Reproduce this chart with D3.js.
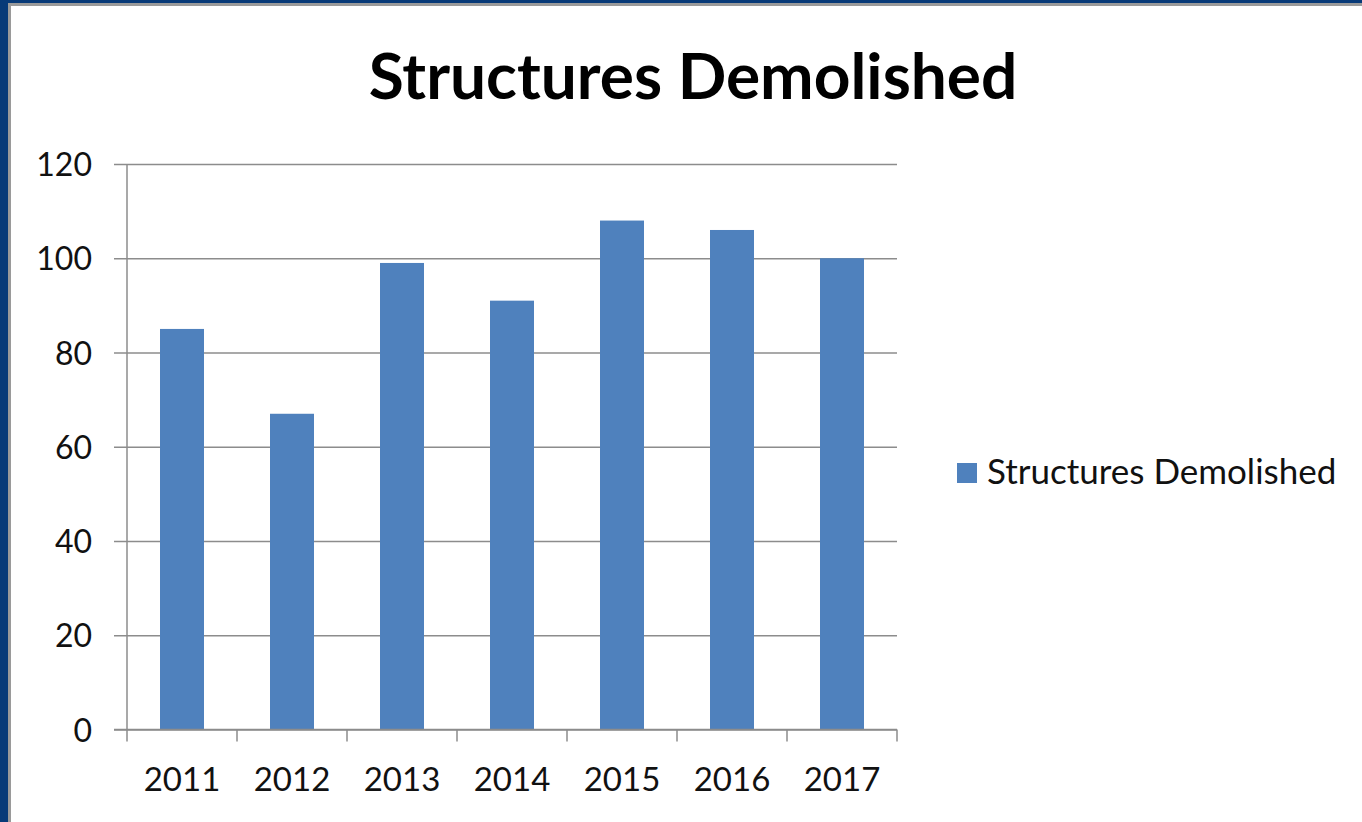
<!DOCTYPE html>
<html>
<head>
<meta charset="utf-8">
<script src="https://cdn.jsdelivr.net/npm/d3@7"></script>
<style>
  body { margin: 0; background: #fff; overflow: hidden; }
  svg { display: block; }
</style>
</head>
<body>
<div id="chart"></div>
<script>
var years = ["2011", "2012", "2013", "2014", "2015", "2016", "2017"];
var demolished = [85, 67, 99, 91, 108, 106, 100];
var yTicks = [0, 20, 40, 60, 80, 100, 120];
var seriesName = "Structures Demolished";
var chartTitle = "Structures Demolished";

var width = 1362;
var height = 822;
var plot = { left: 127, right: 897, top: 164, bottom: 729.5 };
var barColor = "#4F81BD";
var lineColor = "#8c8c8c";
var font = "Lato, 'Open Sans', sans-serif";

var svg = d3.select("#chart").append("svg")
  .attr("width", width)
  .attr("height", height);

// slide frame: dark blue edge on top and left, grey rule inside
svg.append("rect").attr("x", 0).attr("y", 0).attr("width", width).attr("height", height).attr("fill", "#073a78");
svg.append("rect").attr("x", 8).attr("y", 3).attr("width", width - 8).attr("height", height - 3).attr("fill", "#9a9a9a");
svg.append("rect").attr("x", 11).attr("y", 6).attr("width", width - 11).attr("height", height - 6).attr("fill", "#fff");

var y = d3.scaleLinear()
  .domain([0, 120])
  .range([plot.bottom, plot.top]);

var xBand = d3.scaleBand()
  .domain(years)
  .range([plot.left, plot.right]);

var xBar = d3.scaleBand()
  .domain(years)
  .range([plot.left, plot.right])
  .paddingInner(0.6)
  .paddingOuter(0.3);

// gridlines + y tick labels
svg.append("g")
  .attr("transform", "translate(" + plot.left + ",0)")
  .call(d3.axisLeft(y).tickValues(yTicks).tickSize(0))
  .call(function(g) {
    g.select(".domain").remove();
    g.selectAll(".tick line")
      .attr("x1", -13)
      .attr("x2", plot.right - plot.left)
      .attr("stroke", lineColor)
      .attr("stroke-width", 1.5);
    g.selectAll(".tick text")
      .attr("font-family", font)
      .attr("font-size", 32)
      .attr("fill", "#111")
      .attr("x", -35)
      .attr("dy", "0.36em");
  });

// bars
svg.append("g").selectAll("rect")
  .data(demolished)
  .enter().append("rect")
  .attr("x", function(d, i) { return xBar(years[i]); })
  .attr("y", function(d) { return y(d); })
  .attr("width", xBar.bandwidth())
  .attr("height", function(d) { return y(0) - y(d); })
  .attr("fill", barColor);

// y axis line
svg.append("line")
  .attr("x1", plot.left).attr("x2", plot.left)
  .attr("y1", plot.top).attr("y2", plot.bottom)
  .attr("stroke", lineColor).attr("stroke-width", 1.5);

// x axis with ticks at category boundaries
var bounds = years.map(function(d) { return xBand(d); }).concat([plot.right]);
svg.append("line")
  .attr("x1", plot.left - 13).attr("x2", plot.right)
  .attr("y1", plot.bottom).attr("y2", plot.bottom)
  .attr("stroke", lineColor).attr("stroke-width", 1.5);
svg.append("g").selectAll("line")
  .data(bounds)
  .enter().append("line")
  .attr("x1", function(d) { return d; })
  .attr("x2", function(d) { return d; })
  .attr("y1", plot.bottom)
  .attr("y2", plot.bottom + 12)
  .attr("stroke", lineColor)
  .attr("stroke-width", 1.5);

svg.append("g").selectAll("text")
  .data(years)
  .enter().append("text")
  .attr("x", function(d) { return xBand(d) + xBand.bandwidth() / 2; })
  .attr("y", 791)
  .attr("text-anchor", "middle")
  .attr("font-family", font)
  .attr("font-size", 33)
  .attr("fill", "#111")
  .text(function(d) { return d; });

// title
svg.append("text")
  .attr("x", 693)
  .attr("y", 99)
  .attr("text-anchor", "middle")
  .attr("font-family", font)
  .attr("font-weight", "bold")
  .attr("font-size", 64)
  .attr("fill", "#000")
  .text(chartTitle);

// legend
var legend = svg.append("g").attr("transform", "translate(957,463)");
legend.append("rect")
  .attr("width", 20).attr("height", 20)
  .attr("fill", barColor);
legend.append("text")
  .attr("x", 30)
  .attr("y", 21)
  .attr("font-family", font)
  .attr("font-size", 35)
  .attr("fill", "#111")
  .text(seriesName);
</script>
</body>
</html>
